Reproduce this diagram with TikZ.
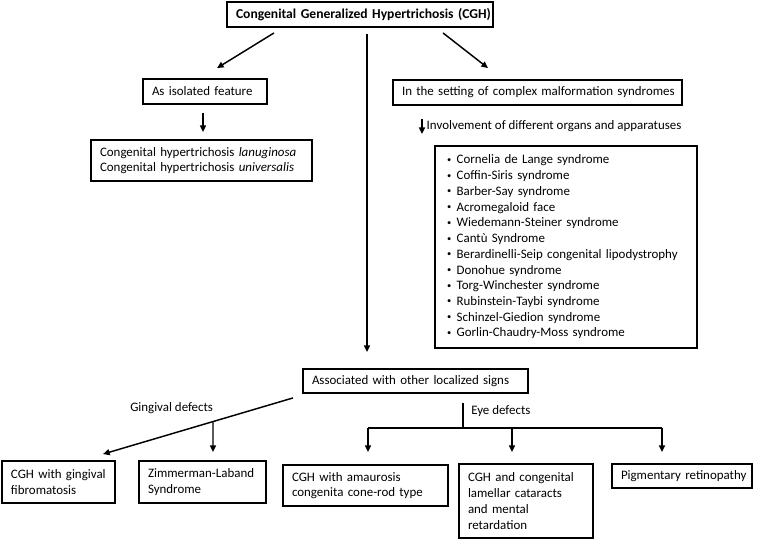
\documentclass[tikz,border=0pt]{standalone}
\usepackage{fontspec}
\usepackage{graphicx}
\setmainfont{Carlito}
\usetikzlibrary{arrows.meta,calc}
\newcommand\lineof[1]{\mbox{#1}}
\newcommand\bul{\makebox[8.25pt][l]{\hspace{1pt}\raisebox{0.25ex}{\scalebox{0.65}{\textbullet}}}}
\begin{document}
\begin{tikzpicture}[x=0.75pt,y=-0.75pt,
  every node/.style={font=\fontsize{9.7pt}{11.8pt}\selectfont},
  bx/.style={draw,line width=1.4pt,inner xsep=6.75pt,inner ysep=0pt,align=left,anchor=center},
  arr/.style={line width=1.1pt,-{Triangle[length=5pt,width=4.5pt]}},
  ln/.style={line width=1.1pt},
  lbl/.style={inner sep=0pt,anchor=west}]
\useasboundingbox (0,0) rectangle (778,540);
\node[bx,text width=186pt,minimum height=18.75pt,font=\fontsize{10.2pt}{11.8pt}\selectfont\bfseries] (top) at (360,14.5) {\lineof{Congenital Generalized Hypertrichosis (CGH)}};
\node[bx,text width=79.5pt,minimum height=18.75pt] (iso) at (205,91.5) {\lineof{As isolated feature}};
\node[bx,text width=152.25pt,minimum height=30.75pt] (lan) at (201.5,160.5) {\lineof{Congenital hypertrichosis \textit{lanuginosa}}\\\lineof{Congenital hypertrichosis \textit{universalis}}};
\node[bx,text width=203.25pt,minimum height=18.75pt] (set) at (537.5,92.5) {\lineof{In the setting of complex malformation syndromes}};
\node[bx,inner xsep=8pt,text width=180.5pt,minimum height=151.5pt] (list) at (566,247) {%
\bul Cornelia de Lange syndrome\\
\bul Coffin-Siris syndrome\\
\bul Barber-Say syndrome\\
\bul Acromegaloid face\\
\bul Wiedemann-Steiner syndrome\\
\bul Cantù Syndrome\\
\bul \lineof{Berardinelli-Seip congenital lipodystrophy}\\
\bul Donohue syndrome\\
\bul Torg-Winchester syndrome\\
\bul Rubinstein-Taybi syndrome\\
\bul Schinzel-Giedion syndrome\\
\bul Gorlin-Chaudry-Moss syndrome};
\node[bx,text width=155.25pt,minimum height=18pt] (assoc) at (415.5,381) {\lineof{Associated with other localized signs}};
\node[bx,text width=71.25pt,minimum height=31.5pt] (b1) at (58.5,482) {\lineof{CGH with gingival}\\fibromatosis};
\node[bx,text width=81.75pt,minimum height=31.5pt] (b2) at (202.5,482) {\lineof{Zimmerman-Laband}\\Syndrome};
\node[bx,text width=110.25pt,minimum height=30.75pt] (b3) at (365.5,485.5) {\lineof{CGH with amaurosis}\\\lineof{congenita cone-rod type}};
\node[bx,text width=87pt,minimum height=55.5pt] (b4) at (526,501) {\lineof{CGH and congenital}\\\lineof{lamellar cataracts}\\and mental\\retardation};
\node[bx,text width=91.5pt,minimum height=18pt] (b5) at (682,476) {\lineof{Pigmentary retinopathy}};
% connectors
\draw[arr] ([shift={(-86,5)}]top.south) -- ([shift={(12,-10)}]iso.north);
\draw[arr] ([shift={(83,5)}]top.south) -- ([shift={(-49.5,-11)}]set.north);
\draw[arr] ([shift={(7,6)}]top.south) -- ([shift={(-48.5,-16)}]assoc.north);
\draw[arr] ([shift={(-2,8)}]iso.south) -- ([shift={(1.5,-7)}]lan.north);
\draw[arr] ([shift={(-115.5,13)}]set.south) -- node[lbl,right=3pt] (inv) {Involvement of different organs and apparatuses} ([shift={(-144,-11)}]list.north);
% gingival
\coordinate (g0) at ([shift={(-122.5,4)}]assoc.south);
\coordinate (g1) at ([shift={(44.5,-6)}]b1.north);
\draw[arr] (g0) -- (g1);
\coordinate (gm) at ($(g0)!0.421!(g1)$);
\coordinate (b2t) at ([shift={(10.5,-8)}]b2.north);
\draw[arr] (gm) -- (b2t);
\node[lbl] (gl) at (130,408) {Gingival defects};
% eye
\coordinate (e0) at ([shift={(47.5,9)}]assoc.south);
\coordinate (e1) at (463,428);
\draw[ln] (e0) -- (e1);
\node[lbl] (el) at (471,411) {Eye defects};
\coordinate (eL) at (368,428);
\coordinate (eM) at (512,428);
\coordinate (eR) at (662,428);
\coordinate (b3t) at ([shift={(2.5,-12)}]b3.north);
\coordinate (b4t) at ([shift={(-14,-11)}]b4.north);
\coordinate (b5t) at ([shift={(-20,-11)}]b5.north);
\draw[ln] (eL) -- (eR);
\draw[arr] (eL) -- (b3t);
\draw[arr] (eM) -- (b4t);
\draw[arr] (eR) -- (b5t);
\end{tikzpicture}
\end{document}
